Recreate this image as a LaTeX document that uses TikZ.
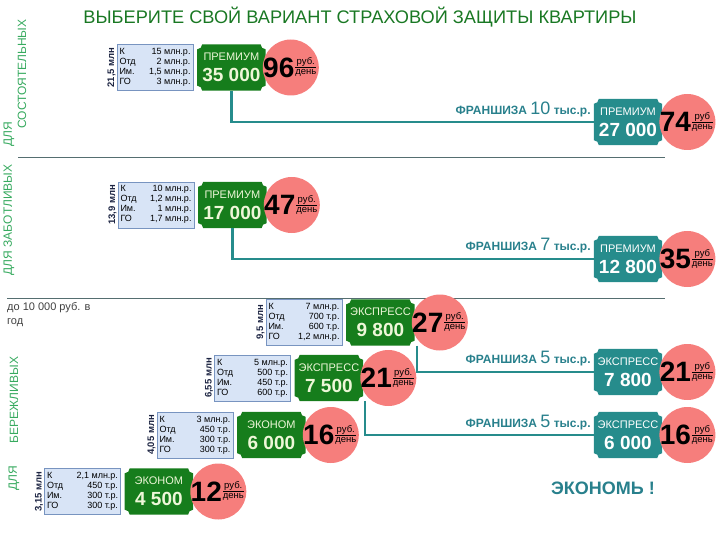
\documentclass[tikz,border=0pt]{standalone}
\usepackage{fontspec}
\setmainfont{Liberation Sans}
\usetikzlibrary{positioning, calc, backgrounds}

\definecolor{titlegreen}{RGB}{25,120,35}
\definecolor{tgreen}{RGB}{22,125,28}
\definecolor{tteal}{RGB}{38,140,140}
\definecolor{frteal}{RGB}{40,128,140}
\definecolor{sidegreen}{RGB}{55,170,95}
\definecolor{dayred}{RGB}{246,126,124}
\definecolor{boxfill}{RGB}{216,228,246}
\definecolor{boxline}{RGB}{120,148,192}
\definecolor{navy}{RGB}{28,36,66}
\definecolor{sepline}{RGB}{85,110,112}
\definecolor{ticktext}{RGB}{238,247,216}

% ticket background with cut corners
\newcommand{\ticketbg}[2]{%
  \begin{pgfonlayer}{background}
  \fill[#2] let \p1=(#1.south west), \p2=(#1.north east) in
    (\x1+5pt,\y1) -- (\x2-5pt,\y1) arc[start angle=180, end angle=90, radius=5pt]
    -- (\x2,\y2-5pt) arc[start angle=270, end angle=180, radius=5pt]
    -- (\x1+5pt,\y2) arc[start angle=0, end angle=-90, radius=5pt]
    -- (\x1,\y1+5pt) arc[start angle=90, end angle=0, radius=5pt] -- cycle;
  \end{pgfonlayer}}
\newcommand{\tk}[2]{{\fontsize{11}{12}\selectfont #1}\\[7pt]{\bfseries\fontsize{19}{20}\selectfont #2}}
\newcommand{\perday}[1]{\begin{tabular}{@{}c@{}}#1\\\hline день\end{tabular}}
\newcommand{\fran}[1]{\bfseries\fontsize{12}{13}\selectfont ФРАНШИЗА {\mdseries\fontsize{18}{18}\selectfont #1} тыс.р.}

\tikzset{
  sumbox/.style={draw=boxline, fill=boxfill, minimum width=76pt, minimum height=46pt, inner sep=2pt, font=\fontsize{9}{10}\selectfont},
  sumlabel/.style={rotate=90, anchor=south, font=\bfseries\fontsize{9.5}{10}\selectfont, text=navy, inner sep=1pt},
  ticket/.style={minimum width=68pt, minimum height=46pt, inner sep=0pt, align=center, text=ticktext},
  price/.style={circle, fill=dayred, minimum size=56pt, inner sep=0pt},
  bignum/.style={font=\bfseries\fontsize{28}{28}\selectfont, inner sep=0pt},
  rub/.style={font=\fontsize{9.5}{9.5}\selectfont, inner sep=0pt},
  conn/.style={draw=tteal, line width=2.2pt},
  frtext/.style={text=frteal, inner sep=0pt, anchor=base east},
  side/.style={rotate=90, text=sidegreen, font=\fontsize{12}{13}\selectfont, inner sep=0pt},
}

\begin{document}
\begin{tikzpicture}[x=1pt, y=-1pt]
  \useasboundingbox (0,0) rectangle (720,540);

  \node[font=\fontsize{18.2}{20}\selectfont, text=titlegreen] (title) at (360,17) {ВЫБЕРИТЕ СВОЙ ВАРИАНТ СТРАХОВОЙ ЗАЩИТЫ КВАРТИРЫ};

  % side captions
  \node[side] (zab) at (9,220) {ДЛЯ ЗАБОТЛИВЫХ};
  \node[side] (dl1) at (9,134) {ДЛЯ};
  \node[side] (sost) at (22,74) {СОСТОЯТЕЛЬНЫХ};
  \node[side] (dl2) at (14,478) {ДЛЯ};
  \node[side] (ber) at (14,400) {БЕРЕЖЛИВЫХ};
  \node[anchor=north west, align=left, inner sep=0pt, text=black!75, font=\fontsize{11}{14}\selectfont] (god) at (7,302) {до 10 000 руб. в\\год};

  \draw[sepline] (18,157) -- (665,157);
  \draw[sepline] (7,298) -- (665,298);

  % sums
  \node[sumbox] (b1) at (155,67.5) {\begin{tabular*}{71pt}{@{}l@{\extracolsep{\fill}}r@{}}К & 15 млн.р.\\ Отд & 2 млн.р.\\ Им. & 1,5 млн.р.\\ ГО & 3 млн.р.\end{tabular*}};
  \node[sumbox] (b2) at (156,205) {\begin{tabular*}{71pt}{@{}l@{\extracolsep{\fill}}r@{}}К & 10 млн.р.\\ Отд & 1,2 млн.р.\\ Им. & 1 млн.р.\\ ГО & 1,7 млн.р.\end{tabular*}};
  \node[sumbox] (b3) at (304,322.5) {\begin{tabular*}{71pt}{@{}l@{\extracolsep{\fill}}r@{}}К & 7 млн.р.\\ Отд & 700 т.р.\\ Им. & 600 т.р.\\ ГО & 1,2 млн.р.\end{tabular*}};
  \node[sumbox] (b4) at (252.5,378) {\begin{tabular*}{71pt}{@{}l@{\extracolsep{\fill}}r@{}}К & 5 млн.р.\\ Отд & 500 т.р.\\ Им. & 450 т.р.\\ ГО & 600 т.р.\end{tabular*}};
  \node[sumbox] (b5) at (195,435) {\begin{tabular*}{71pt}{@{}l@{\extracolsep{\fill}}r@{}}К & 3 млн.р.\\ Отд & 450 т.р.\\ Им. & 300 т.р.\\ ГО & 300 т.р.\end{tabular*}};
  \node[sumbox] (b6) at (82.5,491.5) {\begin{tabular*}{71pt}{@{}l@{\extracolsep{\fill}}r@{}}К & 2,1 млн.р.\\ Отд & 450 т.р.\\ Им. & 300 т.р.\\ ГО & 300 т.р.\end{tabular*}};

  \node[sumlabel] (s1) at (b1.west) {21,5 млн};
  \node[sumlabel] (s2) at (b2.west) {13,9 млн};
  \node[sumlabel] (s3) at (b3.west) {9,5 млн};
  \node[sumlabel] (s4) at (b4.west) {6,55 млн};
  \node[sumlabel] (s5) at (b5.west) {4,05 млн};
  \node[sumlabel] (s6) at (b6.west) {3,15 млн};

  % tickets
  \node[ticket, right=4pt of b1] (t1) {\tk{ПРЕМИУМ}{35 000}};
  \node[ticket, right=4pt of b2] (t2) {\tk{ПРЕМИУМ}{17 000}};
  \node[ticket, right=4pt of b3] (t3) {\tk{ЭКСПРЕСС}{9 800}};
  \node[ticket, right=4pt of b4] (t4) {\tk{ЭКСПРЕСС}{7 500}};
  \node[ticket, right=4pt of b5] (t5) {\tk{ЭКОНОМ}{6 000}};
  \node[ticket, right=4pt of b6] (t6) {\tk{ЭКОНОМ}{4 500}};
  \node[ticket, text=white] (f1) at (628,122) {\tk{ПРЕМИУМ}{27 000}};
  \node[ticket, text=white] (f2) at (628,259) {\tk{ПРЕМИУМ}{12 800}};
  \node[ticket, text=white] (f3) at (628,372) {\tk{ЭКСПРЕСС}{7 800}};
  \node[ticket, text=white] (f4) at (628,435) {\tk{ЭКСПРЕСС}{6 000}};
  \ticketbg{t1}{tgreen} \ticketbg{t2}{tgreen} \ticketbg{t3}{tgreen}
  \ticketbg{t4}{tgreen} \ticketbg{t5}{tgreen} \ticketbg{t6}{tgreen}
  \ticketbg{f1}{tteal} \ticketbg{f2}{tteal} \ticketbg{f3}{tteal} \ticketbg{f4}{tteal}

  % connectors
  \draw[conn] (t1.south) |- (f1.west);
  \draw[conn] (t2.south) |- (f2.west);
  \draw[conn] ([xshift=2pt]t3.south east) |- (f3.west);
  \draw[conn] ([xshift=2pt]t4.south east) |- (f4.west);

  \node[frtext] (fr1) at ([shift={(-3,-7)}]f1.west) {\fran{10}};
  \node[frtext] (fr2) at ([shift={(-3,-9)}]f2.west) {\fran{7}};
  \node[frtext] (fr3) at ([shift={(-3,-9)}]f3.west) {\fran{5}};
  \node[frtext] (fr4) at ([shift={(-3,-8)}]f4.west) {\fran{5}};

  % per day
  \node[price, right=-3pt of t1] (c1) {};
  \node[price, right=-3pt of t2] (c2) {};
  \node[price, right=-3pt of t3] (c3) {};
  \node[price, right=-3pt of t4] (c4) {};
  \node[price, right=-3pt of t5] (c5) {};
  \node[price, right=-3pt of t6] (c6) {};
  \node[price, right=-3pt of f1] (c7) {};
  \node[price, right=-3pt of f2] (c8) {};
  \node[price, right=-3pt of f3] (c9) {};
  \node[price, right=-3pt of f4] (c10) {};

  \node[bignum] (n1) at ([xshift=-12pt]c1.center) {96};
  \node[bignum] (n2) at ([xshift=-12pt]c2.center) {47};
  \node[bignum] (n3) at ([xshift=-12pt]c3.center) {27};
  \node[bignum] (n4) at ([xshift=-12pt]c4.center) {21};
  \node[bignum] (n5) at ([xshift=-12pt]c5.center) {16};
  \node[bignum] (n6) at ([xshift=-12pt]c6.center) {12};
  \node[bignum] (n7) at ([xshift=-12pt]c7.center) {74};
  \node[bignum] (n8) at ([xshift=-12pt]c8.center) {35};
  \node[bignum] (n9) at ([xshift=-12pt]c9.center) {21};
  \node[bignum] (n10) at ([xshift=-12pt]c10.center) {16};

  \node[rub] (r1) at ([xshift=15pt]c1.center) {\perday{руб.}};
  \node[rub] (r2) at ([xshift=15pt]c2.center) {\perday{руб.}};
  \node[rub] (r3) at ([xshift=15pt]c3.center) {\perday{руб.}};
  \node[rub] (r4) at ([xshift=15pt]c4.center) {\perday{руб.}};
  \node[rub] (r5) at ([xshift=15pt]c5.center) {\perday{руб.}};
  \node[rub] (r6) at ([xshift=15pt]c6.center) {\perday{руб.}};
  \node[rub] (r7) at ([xshift=15pt]c7.center) {\perday{руб}};
  \node[rub] (r8) at ([xshift=15pt]c8.center) {\perday{руб}};
  \node[rub] (r9) at ([xshift=15pt]c9.center) {\perday{руб}};
  \node[rub] (r10) at ([xshift=15pt]c10.center) {\perday{руб}};

  \node[text=frteal, font=\bfseries\fontsize{18}{20}\selectfont] (ekon) at (603,488) {ЭКОНОМЬ !};
\end{tikzpicture}
\end{document}
